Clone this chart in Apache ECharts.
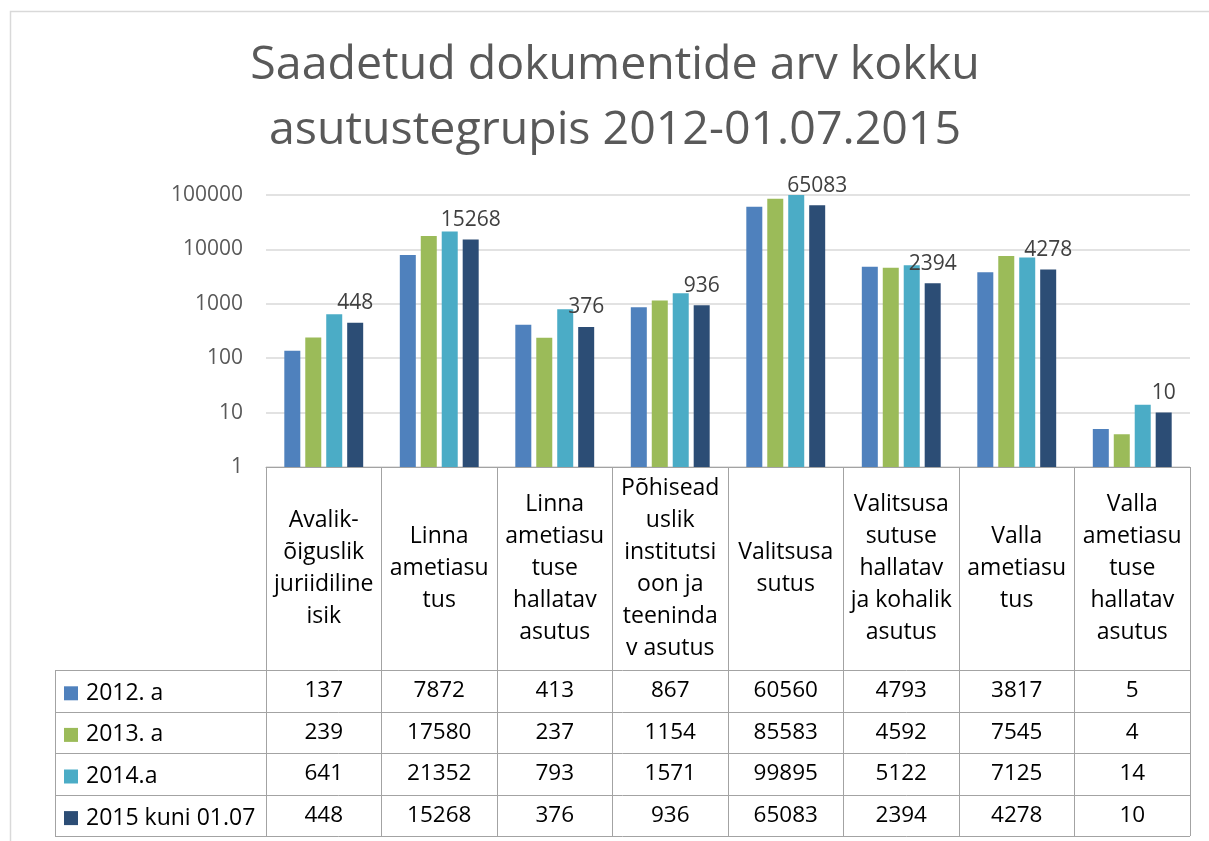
<!DOCTYPE html>
<html>
<head>
<meta charset="utf-8">
<title>Saadetud dokumentide arv kokku</title>
<script src="https://cdn.jsdelivr.net/npm/echarts@6/dist/echarts.min.js"></script>
<style>
  html, body { margin: 0; padding: 0; background: #fff; }
  #main { width: 1209px; height: 841px; }
</style>
</head>
<body>
<div id="main"></div>
<script>
// asutustegrupid (murtud nagu Exceli tabelis)
const categories = [
  'Avalik-\nõiguslik\njuriidiline\nisik',
  'Linna\nametiasu\ntus',
  'Linna\nametiasu\ntuse\nhallatav\nasutus',
  'Põhisead\nuslik\ninstitutsi\noon ja\nteeninda\nv asutus',
  'Valitsusa\nsutus',
  'Valitsusa\nsutuse\nhallatav\nja kohalik\nasutus',
  'Valla\nametiasu\ntus',
  'Valla\nametiasu\ntuse\nhallatav\nasutus'
];
const seriesNames = ['2012. a', '2013. a', '2014.a', '2015 kuni 01.07'];
const v2012 = [137, 7872, 413, 867, 60560, 4793, 3817, 5];
const v2013 = [239, 17580, 237, 1154, 85583, 4592, 7545, 4];
const v2014 = [641, 21352, 793, 1571, 99895, 5122, 7125, 14];
const v2015 = [448, 15268, 376, 936, 65083, 2394, 4278, 10];
const yTicks = [1, 10, 100, 1000, 10000, 100000];

const values = [v2012, v2013, v2014, v2015];
const colors = ['#4F81BD', '#9BBB59', '#4BACC6', '#2C4D75'];

// paigutus
const FONT = '"Open Sans", "Noto Sans", sans-serif';
const gridLeft = 266, gridRight = 1190, gridTop = 195, axisY = 467;
const tableLeft = 55, rowTop = 670, rowH = 41.6;
const lineColor = '#a3a3a3';

let chartDom = document.getElementById('main');
let myChart = echarts.init(chartDom);

// tabeli read: iga rida on oma x-telg (ainult sildid)
let rowAxes = values.map((arr, r) => ({
  type: 'category',
  data: categories,
  position: 'bottom',
  offset: rowTop + rowH * (r + 0.5) - axisY,
  axisLine: { show: false },
  axisTick: { show: false },
  splitLine: { show: false },
  axisLabel: {
    interval: 0,
    margin: 0,
    verticalAlign: 'middle',
    fontFamily: FONT,
    fontSize: 22.5,
    color: '#000',
    formatter: (v, i) => String(arr[i])
  }
}));

// legend: üks kirje iga tabeli rea kohta
let legends = seriesNames.map((name, r) => ({
  orient: 'vertical',
  left: 64,
  top: rowTop + rowH * (r + 0.5) - 9,
  padding: 0,
  itemWidth: 14,
  itemHeight: 14,
  icon: 'rect',
  selectedMode: false,
  data: [name],
  textStyle: {
    fontFamily: FONT,
    fontSize: 23,
    lineHeight: 18,
    color: '#000',
    padding: [0, 0, 0, 3]
  }
}));

// tabeli horisontaaljooned
let graphics = [];
for (let r = 0; r <= values.length; r++) {
  let y = Math.round(rowTop + rowH * r) + 0.5;
  graphics.push({
    type: 'line',
    shape: { x1: tableLeft, y1: y, x2: gridRight, y2: y },
    style: { stroke: lineColor, lineWidth: 1 }
  });
}
graphics.push({
  type: 'line',
  shape: { x1: tableLeft + 0.5, y1: rowTop, x2: tableLeft + 0.5, y2: Math.round(rowTop + rowH * values.length) + 0.5 },
  style: { stroke: lineColor, lineWidth: 1 }
});
// diagrammi raam
graphics.push({
  type: 'rect',
  shape: { x: 10.5, y: 11.5, width: 1400, height: 1000 },
  style: { fill: null, stroke: '#d9d9d9', lineWidth: 1.5 },
  silent: true
});
// pealkiri
graphics.push({
  type: 'text',
  x: 615,
  y: 98,
  style: {
    text: 'Saadetud dokumentide arv kokku\nasutustegrupis 2012-01.07.2015',
    align: 'center',
    verticalAlign: 'middle',
    font: '46.5px ' + FONT,
    lineHeight: 65,
    fill: '#595959'
  }
});

let option = {
  backgroundColor: '#fff',
  animation: false,
  color: colors,
  grid: {
    left: gridLeft,
    right: 1209 - gridRight,
    top: gridTop,
    bottom: 841 - axisY,
    containLabel: false
  },
  legend: legends,
  xAxis: [{
    type: 'category',
    data: categories,
    axisLine: { show: true, lineStyle: { color: lineColor, width: 1 } },
    axisTick: {
      show: true,
      alignWithLabel: false,
      length: Math.round(rowTop + rowH * values.length) - axisY,
      lineStyle: { color: lineColor, width: 1 }
    },
    axisLabel: {
      interval: 0,
      margin: 101.5,
      verticalAlign: 'middle',
      fontFamily: FONT,
      fontSize: 23,
      lineHeight: 32,
      color: '#000'
    }
  }].concat(rowAxes),
  yAxis: {
    type: 'log',
    logBase: 10,
    min: yTicks[0],
    max: yTicks[yTicks.length - 1],
    axisLine: { show: false },
    axisTick: { show: false },
    splitLine: { lineStyle: { color: '#d9d9d9', width: 1.5 } },
    axisLabel: {
      margin: 23,
      fontFamily: FONT,
      fontSize: 21,
      color: '#595959',
      formatter: v => String(v)
    }
  },
  series: values.map((arr, i) => ({
    name: seriesNames[i],
    type: 'bar',
    xAxisIndex: 0,
    barWidth: 16,
    barGap: '31%',
    data: arr,
    itemStyle: { color: colors[i] },
    label: {
      show: i === values.length - 1,
      position: 'top',
      distance: 9,
      fontFamily: FONT,
      fontSize: 21,
      color: '#404040'
    }
  })),
  graphic: graphics
};

option && myChart.setOption(option);
</script>
</body>
</html>
